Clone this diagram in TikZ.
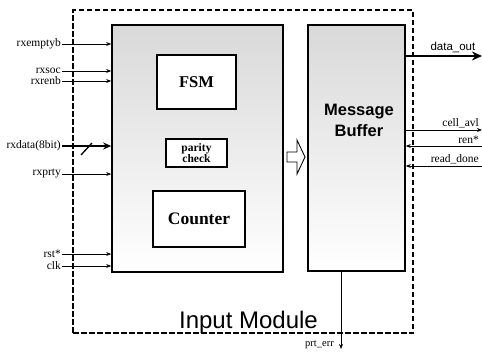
\documentclass[tikz,border=0pt]{standalone}
\usepackage{fontspec}
\setmainfont{Liberation Serif}
\setsansfont{Liberation Sans}
\usepackage{tikz}
\usetikzlibrary{arrows.meta,positioning,calc}

\tikzset{
  blk/.style={draw,line width=1.6pt,top color=black!15,bottom color=white,minimum width=#1},
  sub/.style={draw,line width=1.4pt,fill=white,font=\bfseries},
  sig/.style={font=\fontsize{11.5}{12}\selectfont,inner sep=1pt},
  inarr/.style={-{Stealth[length=5pt,width=4pt]},line width=0.8pt},
}

\begin{document}
\begin{tikzpicture}[x=1pt,y=-1pt]
  \useasboundingbox (0,0) rectangle (482,351);
  % outer module border
  \node[draw,dashed,line width=1.3pt,dash pattern=on 5.5pt off 2.5pt,minimum width=340pt,minimum height=323pt] (outer) at (243,171.5) {};
  \node[font=\sffamily\fontsize{24}{24}\selectfont,anchor=base,inner sep=0pt] (title) at (248.5,328) {Input Module};

  % main blocks
  \node[blk=171pt,minimum height=247pt] (lbox) at (197.5,148.5) {};
  \node[blk=97pt,minimum height=246pt] (mbuf) at (356.5,148) {};
  \node[font=\sffamily\bfseries\fontsize{16.5}{21}\selectfont,align=center] (mlab) at (359,120) {Message\\Buffer};
  \node[sub,minimum width=79pt,minimum height=54pt,font=\bfseries\fontsize{16.5}{16}\selectfont] (fsm) at (196.5,82) {FSM};
  \node[sub,minimum width=61pt,minimum height=28pt,align=center,font=\bfseries\fontsize{11.5}{11}\selectfont] (par) at (196.5,153) {parity\\check};
  \node[sub,minimum width=92pt,minimum height=56pt,font=\bfseries\fontsize{17.5}{17}\selectfont] (cnt) at (199,219) {Counter};
  \draw[line width=0.9pt,fill=white] (287,152) -- (297,152) -- (297,140) -- (305,157) -- (297,174) -- (297,162) -- (287,162) -- cycle;

  % inputs
  \node[sig,anchor=east] (rxemptyb) at (62,44) {rxemptyb};
  \node[sig,anchor=east] (rxsoc) at (62,71) {rxsoc};
  \node[sig,anchor=east] (rxrenb) at (62,81) {rxrenb};
  \node[sig,anchor=east] (rxdata) at (62,146) {rxdata(8bit)};
  \node[sig,anchor=east] (rxprty) at (62,174) {rxprty};
  \node[sig,anchor=east] (rst) at (62,254) {rst*};
  \node[sig,anchor=east] (clk) at (62,266) {clk};
  \foreach \s in {rxemptyb,rxsoc,rxrenb,rxprty,rst,clk}
    \draw[inarr] (\s) -- (\s -| lbox.west);
  \draw[-{Stealth[length=8pt,width=7pt]},line width=2.2pt] (rxdata) -- (rxdata -| lbox.west);
  \draw[line width=1.3pt] (81,155) -- (92,143);

  % outputs
  \coordinate (dout) at (482,56);
  \coordinate (cavl) at (482,130);
  \coordinate (ren) at (482,146);
  \coordinate (rdone) at (482,166);
  \draw[-{Stealth[length=10pt,width=9pt]},line width=2.4pt] (dout -| mbuf.east) -- (dout);
  \draw[inarr] (cavl -| mbuf.east) -- (cavl);
  \draw[inarr] (ren) -- (ren -| mbuf.east);
  \draw[inarr] (rdone) -- (rdone -| mbuf.east);
  \node[font=\sffamily\fontsize{11.5}{11}\selectfont,anchor=south east,inner sep=1.5pt] at ($(dout)+(-5,-2)$) {data\_out};
  \node[sig,anchor=south east] at ($(cavl)+(-2,-1)$) {cell\_avl};
  \node[sig,anchor=south east] at ($(ren)+(-2,-1)$) {ren*};
  \node[sig,anchor=south east] at ($(rdone)+(-2,-1)$) {read\_done};

  \coordinate (perr) at (341,349);
  \draw[inarr] (perr |- mbuf.south) -- (perr);
  \node[sig,anchor=east,font=\fontsize{10.5}{10}\selectfont] (perrlab) at (335,345) {prt\_err};
\end{tikzpicture}
\end{document}
